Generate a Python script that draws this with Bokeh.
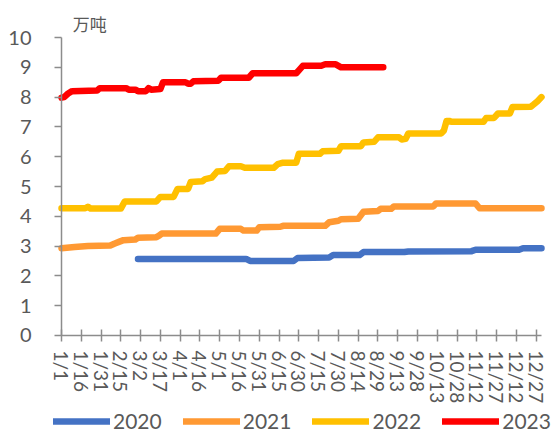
import math
from bokeh.plotting import figure
from bokeh.models import Range1d, FixedTicker, Legend, LegendItem, Label
from bokeh.embed import file_html
from bokeh.resources import INLINE

# ---- data ----
tick_days = [0, 15, 30, 45, 60, 75, 90, 105, 120, 135, 150, 165, 180, 195,
             210, 225, 240, 255, 270, 285, 300, 315, 330, 345, 360]
tick_labels = ["1/1", "1/16", "1/31", "2/15", "3/2", "3/17", "4/1", "4/16",
               "5/1", "5/16", "5/31", "6/15", "6/30", "7/15", "7/30", "8/14",
               "8/29", "9/13", "9/28", "10/13", "10/28", "11/12", "11/27",
               "12/12", "12/27"]
y_ticks = [0, 1, 2, 3, 4, 5, 6, 7, 8, 9, 10]
unit_text = "万吨"

days_2020 = [58, 140, 143, 176, 179, 203, 206, 226, 229, 260, 263, 311, 314, 347, 350, 364]
vals_2020 = [2.57, 2.57, 2.50, 2.50, 2.60, 2.62, 2.70, 2.70, 2.80, 2.80, 2.82, 2.83, 2.88, 2.88, 2.93, 2.93]

days_2021 = [0, 10, 20, 37, 40, 44, 47, 56, 58, 72, 74, 76, 117, 120, 136, 138, 148, 150,
             166, 168, 200, 203, 210, 212, 225, 229, 240, 242, 250, 252, 282, 284, 314, 317, 364]
vals_2021 = [2.93, 2.97, 3.00, 3.02, 3.08, 3.15, 3.20, 3.22, 3.28, 3.30, 3.35, 3.42, 3.42, 3.58,
             3.58, 3.52, 3.52, 3.63, 3.65, 3.68, 3.68, 3.80, 3.85, 3.90, 3.92, 4.15, 4.18, 4.25,
             4.25, 4.33, 4.33, 4.43, 4.43, 4.27, 4.27]

days_2022 = [0, 18, 20, 22, 45, 48, 72, 75, 85, 88, 96, 98, 107, 109, 114, 118, 124, 127,
             136, 139, 161, 164, 168, 178, 180, 196, 198, 210, 212, 227, 229, 237, 240, 256,
             258, 261, 263, 288, 290, 292, 294, 296, 320, 322, 328, 331, 340, 342, 356, 358,
             361, 364]
vals_2022 = [4.27, 4.27, 4.32, 4.26, 4.26, 4.50, 4.50, 4.65, 4.65, 4.92, 4.92, 5.15, 5.18,
             5.25, 5.30, 5.50, 5.52, 5.68, 5.68, 5.63, 5.63, 5.75, 5.80, 5.80, 6.10, 6.10,
             6.18, 6.20, 6.35, 6.35, 6.48, 6.50, 6.65, 6.65, 6.58, 6.60, 6.78, 6.78, 6.88,
             7.20, 7.20, 7.17, 7.17, 7.30, 7.30, 7.45, 7.45, 7.67, 7.68, 7.75, 7.86, 8.00]

days_2023 = [0, 2, 5, 8, 27, 29, 49, 51, 56, 58, 64, 66, 68, 75, 77, 94, 96, 98, 100, 119,
             121, 142, 145, 178, 180, 183, 197, 200, 208, 212, 244]
vals_2023 = [7.98, 8.00, 8.12, 8.20, 8.22, 8.30, 8.30, 8.25, 8.25, 8.20, 8.20, 8.30, 8.25,
             8.27, 8.50, 8.50, 8.45, 8.45, 8.53, 8.55, 8.65, 8.65, 8.80, 8.80, 8.90, 9.05,
             9.05, 9.10, 9.10, 9.00, 9.00]

series = [
    ("2020", days_2020, vals_2020, "#4472C4"),
    ("2021", days_2021, vals_2021, "#FF9933"),
    ("2022", days_2022, vals_2022, "#FFC000"),
    ("2023", days_2023, vals_2023, "#FF0000"),
]

FONT = "Lato"
TXT = "#595959"
AX = "#8c8c8c"

# frame covers the whole canvas; axes are drawn at fixed data locations
p = figure(width=553, height=435, output_backend="svg", toolbar_location=None,
           x_range=Range1d(-46.26, 373.1), y_range=Range1d(-3.356, 11.242),
           min_border=0, min_border_left=0, min_border_right=0,
           min_border_top=0, min_border_bottom=0)
p.outline_line_color = None
p.xgrid.visible = False
p.ygrid.visible = False
p.background_fill_color = "white"
p.border_fill_color = "white"

renderers = []
for name, d, v, c in series:
    r = p.line(d, v, line_color=c, line_width=6.5, line_cap="round", line_join="round")
    renderers.append((name, r))

xa = p.xaxis[0]
xa.axis_label = None
xa.fixed_location = 0
xa.bounds = (0, 364)
xa.ticker = FixedTicker(ticks=tick_days)
xa.major_label_overrides = {d: l for d, l in zip(tick_days, tick_labels)}
xa.major_label_orientation = -math.pi / 2
xa.major_label_text_font = FONT
xa.major_label_text_font_size = "19px"
xa.major_label_text_color = TXT
xa.major_label_standoff = 9
xa.axis_line_color = AX
xa.axis_line_width = 1.5
xa.major_tick_line_color = AX
xa.major_tick_line_width = 1.5
xa.major_tick_in = 6
xa.major_tick_out = 6
xa.minor_tick_line_color = None

ya = p.yaxis[0]
ya.axis_label = None
ya.fixed_location = 0
ya.bounds = (0, 10)
ya.ticker = FixedTicker(ticks=y_ticks)
ya.major_label_text_font = FONT
ya.major_label_text_font_size = "20px"
ya.major_label_text_color = TXT
ya.major_label_standoff = 23
ya.axis_line_color = AX
ya.axis_line_width = 1.5
ya.major_tick_line_color = AX
ya.major_tick_line_width = 1.5
ya.major_tick_in = 0
ya.major_tick_out = 7
ya.minor_tick_line_color = None

unit = Label(x=8.6, y=10.47, text=unit_text, text_font="Noto Sans CJK SC",
             text_font_size="17px", text_color=TXT, text_align="left",
             text_baseline="middle")
p.add_layout(unit)

legend = Legend(items=[LegendItem(label=n, renderers=[r]) for n, r in renderers],
                orientation="horizontal", location=(53, 2),
                border_line_color=None, background_fill_alpha=0,
                padding=0, margin=0, spacing=21, glyph_width=57, glyph_height=20,
                label_standoff=3, label_text_font=FONT, label_text_font_size="21px",
                label_text_color=TXT, label_height=20, label_text_line_height=1.0)
p.add_layout(legend)

open("out.html", "w").write(file_html(p, INLINE))
